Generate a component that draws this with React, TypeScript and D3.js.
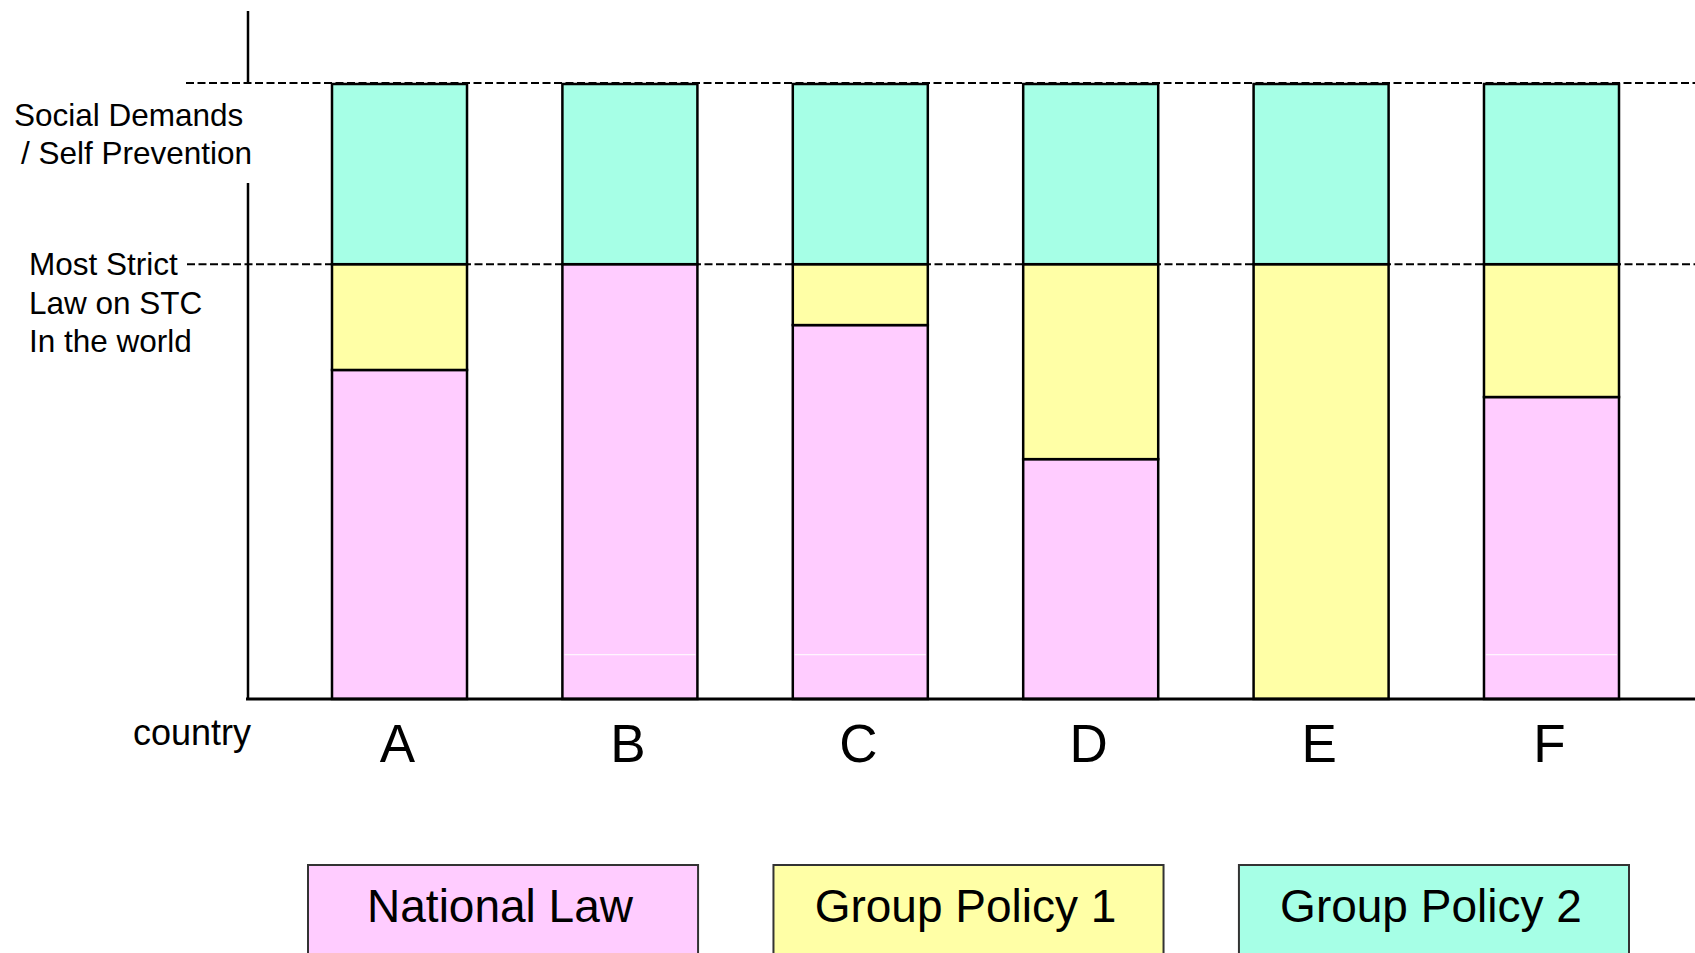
import * as d3 from 'd3'

const countries = ['A', 'B', 'C', 'D', 'E', 'F']
const nationalLaw = [53.5, 70.7, 60.8, 39.0, 0, 49.1]
const groupPolicy1 = [17.2, 0, 9.9, 31.7, 70.7, 21.6]
const groupPolicy2 = [29.3, 29.3, 29.3, 29.3, 29.3, 29.3]
// faint seam inside some pink bars
const nationalSeam = [null, 7.2, 7.2, null, null, 7.2]
const strictLevel = 70.7
const topLevel = 100

const seriesNames = ['National Law', 'Group Policy 1', 'Group Policy 2']
const seriesColors = ['#ffccff', '#ffffa6', '#a6ffe6']

const W = 1695
const H = 953
const FONT = '"Liberation Sans", Arial, sans-serif'

export default function App() {
  const x = d3.scaleBand<string>().domain(countries).range([332, 1619]).paddingInner(0.414).paddingOuter(0)
  const y = d3.scaleLinear().domain([0, topLevel]).range([699, 84])

  const rows = countries.map((c, i) => ({
    country: c,
    national: nationalLaw[i],
    g1: groupPolicy1[i],
    g2: groupPolicy2[i],
  }))
  const stacked = d3.stack<any>().keys(['national', 'g1', 'g2'])(rows)

  const legendX = d3.scaleBand<string>().domain(seriesNames).range([308, 1629]).paddingInner(0.162)

  return (
    <div style={{ position: 'fixed', left: 0, top: 0, width: W, height: H, overflow: 'hidden', background: '#fff' }}>
      <svg width={W} height={H} style={{ display: 'block', fontFamily: FONT }}>
        {/* reference lines */}
        <line x1={186} x2={W} y1={y(topLevel) - 1} y2={y(topLevel) - 1} stroke="#000" strokeWidth={2} strokeDasharray="8,3.5" />
        <line x1={187} x2={W} y1={y(strictLevel)} y2={y(strictLevel)} stroke="#000" strokeWidth={2} strokeDasharray="8,3.5" />

        {/* y axis, broken behind the top label */}
        <line x1={248} x2={248} y1={11} y2={y(topLevel)} stroke="#000" strokeWidth={2.5} />
        <line x1={248} x2={248} y1={183} y2={y(0)} stroke="#000" strokeWidth={2.5} />

        {/* stacked bars */}
        {stacked.map((s, si) => (
          <g key={s.key}>
            {s.map((d, i) => {
              const h = y(d[0]) - y(d[1])
              if (h <= 0) return null
              return (
                <rect key={i} x={x(countries[i])} y={y(d[1])} width={x.bandwidth()} height={h}
                  fill={seriesColors[si]} stroke="#000" strokeWidth={2.5} />
              )
            })}
          </g>
        ))}
        {nationalSeam.map((v, i) => v == null ? null : (
          <line key={i} x1={(x(countries[i]) ?? 0) + 2} x2={(x(countries[i]) ?? 0) + x.bandwidth() - 2}
            y1={y(v)} y2={y(v)} stroke="#fff" strokeWidth={1} />
        ))}

        {/* baseline */}
        <line x1={246} x2={W} y1={y(0)} y2={y(0)} stroke="#000" strokeWidth={3} />

        {/* left labels */}
        <g fontSize={31.5} fill="#000">
          <text x={14} y={126}>Social Demands</text>
          <text x={21} y={164}>/ Self Prevention</text>
          <text x={29} y={275}>Most Strict</text>
          <text x={29} y={314}>Law on STC</text>
          <text x={29} y={352}>In the world</text>
        </g>
        <text x={133} y={745} fontSize={36}>country</text>

        {/* category labels */}
        {countries.map(c => (
          <text key={c} x={(x(c) ?? 0) + x.bandwidth() / 2 - 2} y={762} fontSize={53} textAnchor="middle">{c}</text>
        ))}

        {/* legend boxes */}
        {seriesNames.map((n, i) => (
          <g key={n}>
            <rect x={legendX(n)} y={865} width={legendX.bandwidth()} height={130} fill={seriesColors[i]} stroke="#333" strokeWidth={2} />
            <text x={(legendX(n) ?? 0) + legendX.bandwidth() / 2 - 3} y={922} fontSize={46} textAnchor="middle">{n}</text>
          </g>
        ))}
      </svg>
    </div>
  )
}
